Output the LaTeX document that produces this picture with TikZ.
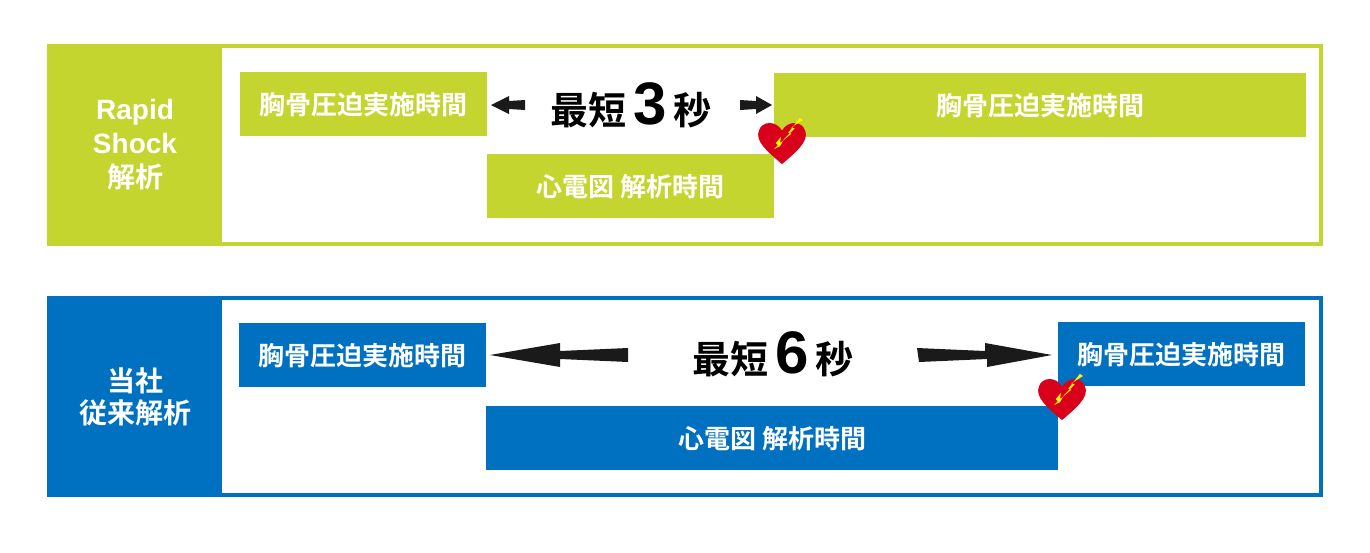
\documentclass[tikz,border=0pt]{standalone}
\usepackage{fontspec}
\newfontfamily\cjk{Noto Sans CJK JP Bold}
\newfontfamily\lat{Liberation Sans Bold}
\newcommand\bigtxt{\cjk\fontsize{19}{22}\selectfont}
\newcommand\numtxt{\lat\fontsize{30}{32}\selectfont}
\definecolor{gr}{HTML}{C4D52F}
\definecolor{bl}{HTML}{0070C0}
\definecolor{hr}{HTML}{D9001B}
\definecolor{ar}{HTML}{1A1A1A}
\begin{document}
\begin{tikzpicture}[x=0.5pt,y=-0.5pt,
 bx/.style={anchor=north west,inner sep=0,minimum height=32pt,text=white,font=\cjk\fontsize{13}{15}\selectfont},
 lab/.style={text=white,align=center,font=\cjk\fontsize{14}{16}\selectfont}]
\useasboundingbox (0,0) rectangle (1370,552);
% ---- top
\draw[gr,line width=2pt,fill=white] (49,46) rectangle (1321,244);
\fill[gr] (47,44) rectangle (222,246);
\node[lab,font=\lat\fontsize{14}{17}\selectfont] (l1) at (135,145) {Rapid\\Shock\\{\cjk 解析}};
\node[bx,fill=gr,minimum width=123.5pt] (a1) at (240,72) {胸骨圧迫実施時間};
\node[bx,fill=gr,minimum width=266pt] (a2) at (774,73) {胸骨圧迫実施時間};
\node[bx,fill=gr,minimum width=143.5pt] (a3) at (487,154) {心電図 解析時間};
\node (t1) at (631,105) {\bigtxt 最短\,{\numtxt 3}\,秒};
\coordinate (la1) at (525,105); \coordinate (lt1) at (491,105);
\coordinate (ra1) at (740,105); \coordinate (rt1) at (772,105);
\fill[ar] (la1)++(0,-5) -- ++(-16,1) -- ++(0,-5) -- (lt1) -- ++(18,9) -- ++(0,-5) -- ++(16,1) -- cycle;
\fill[ar] (ra1)++(0,-5) -- ++(16,1) -- ++(0,-5) -- (rt1) -- ++(-16,9) -- ++(0,-5) -- ++(-16,1) -- cycle;
% ---- bottom
\draw[bl,line width=2pt,fill=white] (49,298) rectangle (1321,495);
\fill[bl] (47,296) rectangle (222,497);
\node[lab] (l2) at (135,397) {当社\\従来解析};
\node[bx,fill=bl,minimum width=123.5pt] (b1) at (239,323) {胸骨圧迫実施時間};
\node[bx,fill=bl,minimum width=123.5pt] (b2) at (1058,322) {胸骨圧迫実施時間};
\node[bx,fill=bl,minimum width=286pt] (b3) at (486,406) {心電図 解析時間};
\node (t2) at (773,354) {\bigtxt 最短\,{\numtxt 6}\,秒};
\coordinate (la2) at (628,355); \coordinate (lt2) at (490,355);
\coordinate (ra2) at (917,355); \coordinate (rt2) at (1052,355);
\fill[ar] (la2)++(0,-7) -- ++(-68,3) -- ++(0,-8) -- (lt2) -- ++(70,12) -- ++(0,-8) -- ++(68,3) -- cycle;
\fill[ar] (ra2)++(0,-7) -- ++(68,3) -- ++(0,-8) -- (rt2) -- ++(-65,12) -- ++(0,-8) -- ++(-68,3) -- cycle;
% hearts
\foreach \hx/\hy in {782/141,1062/397}{
 \begin{scope}[shift={(\hx,\hy)},scale=1.05]
 \fill[hr] (0,22) .. controls (-14,10) and (-26,0) .. (-22,-10) .. controls (-19,-19) and (-6,-20) .. (0,-10)
   .. controls (6,-20) and (19,-19) .. (22,-10) .. controls (26,0) and (14,10) .. (0,22) -- cycle;
 \fill[yellow] (17,-22) -- (6,-8) -- (9,-7) -- (-2,2) -- (-1,-4) -- (-6,2) -- (-4,4) -- (-8,8) -- (-2,5) -- (2,-2) -- (12,-12) -- (9,-13) -- (20,-20) -- cycle;
 \end{scope}}
\end{tikzpicture}
\end{document}
